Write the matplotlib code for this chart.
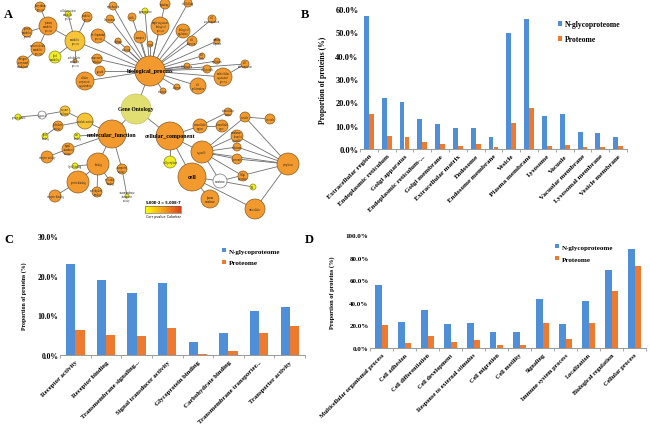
import numpy as np
import matplotlib
matplotlib.use('Agg')
import matplotlib.pyplot as plt
from matplotlib.patches import Circle
from matplotlib.colors import LinearSegmentedColormap

plt.rcParams['font.family'] = ['Liberation Serif', 'DejaVu Serif']
plt.rcParams['font.weight'] = 'bold'

BLUE = '#4f8fd8'
ORANGE = '#ee7a30'

# ---- panel B: cellular component
cc_terms = ['Extracellular region', 'Endoplasmic reticulum', 'Golgi apparatus',
            'Endoplasmic reticulum-...', 'Golgi membrane', 'Extracellular matrix',
            'Endosome', 'Endosome membrane', 'Vesicle', 'Plasma membrane',
            'Lysosome', 'Vacuole', 'Vacuolar membrane', 'Lysosomal membrane',
            'Vesicle membrane']
cc_glyco = [57.0, 21.8, 20.1, 13.0, 10.8, 9.0, 9.1, 5.3, 49.6, 55.8, 14.3, 15.1, 7.5, 7.0, 5.0]
cc_prot = [15.2, 5.4, 5.0, 3.0, 2.0, 1.5, 2.3, 1.0, 11.1, 17.6, 1.5, 1.8, 1.0, 0.8, 1.3]

# ---- panel C: molecular function
mf_terms = ['Receptor activity', 'Receptor binding', 'Transmembrane signaling...',
            'Signal transducer activity', 'Glycoprotein binding', 'Carbohydrate binding',
            'Transmembrane transporter...', 'Transporter activity']
mf_glyco = [22.9, 18.9, 15.6, 18.1, 3.4, 5.5, 11.0, 12.2]
mf_prot = [6.3, 5.1, 4.9, 6.7, 0.3, 1.0, 5.6, 7.3]

# ---- panel D: biological process
bp_terms = ['Multicellular organismal process', 'Cell adhesion', 'Cell differentiation',
            'Cell development', 'Response to external stimulus', 'Cell migration',
            'Cell motility', 'Signaling', 'Immune system process', 'Localization',
            'Biological regulation', 'Cellular process']
bp_glyco = [55.5, 22.8, 33.8, 21.5, 22.5, 14.0, 14.3, 43.2, 21.0, 41.2, 69.0, 87.2]
bp_prot = [20.5, 4.3, 10.5, 5.3, 6.7, 2.5, 3.0, 21.8, 7.8, 22.5, 50.5, 72.3]

# ---- panel A: GO network (node x, y, radius, colour kind, label)
node_x = [136, 150, 112, 170,
          75, 48, 40, 68, 87, 27, 38, 55, 75, 23, 97, 98, 100, 85,
          113, 110, 132, 145, 165, 188, 160, 183, 140, 118, 127, 150, 192,
          212, 217, 202, 217, 245, 207, 223, 198, 177, 163, 187,
          85, 42, 18, 65, 58, 45, 77, 68, 47, 98, 75, 78, 55, 97, 110, 122, 127,
          200, 222, 228, 245, 270, 202, 237, 237, 237, 243, 253, 220, 288, 170,
          192, 210, 255]
node_y = [110, 72, 135, 137,
          42, 27, 8, 15, 18, 33, 50, 58, 62, 63, 60, 37, 72, 82,
          7, 20, 18, 12, 5, 4, 27, 32, 38, 42, 50, 45, 42,
          20, 42, 57, 62, 65, 70, 78, 87, 88, 92, 67,
          122, 116, 118, 112, 127, 137, 137, 150, 158, 165, 167, 183, 197, 193, 182, 170, 197,
          127, 127, 113, 118, 120, 153, 137, 148, 160, 177, 188, 182, 165, 163,
          178, 200, 210]
node_r = [15, 15, 14, 14,
          10, 9, 5, 3, 5, 5, 7, 6, 2, 6, 5, 7, 5, 9,
          4, 4, 4, 3, 5, 4, 9, 7, 6, 3, 3, 3, 5,
          4, 3, 3, 3, 4, 4, 9, 8, 3, 3, 3,
          8, 4, 3, 5, 5, 3, 3, 6, 6, 11, 3, 11, 6, 5, 4, 5, 2,
          7, 6, 4, 5, 5, 11, 6, 4, 5, 5, 3, 7, 11, 6,
          14, 9, 10]
node_kind = ['go', 'o', 'o', 'o',
             'yo', 'o', 'o', 'y', 'o', 'o', 'o', 'y', 'o', 'o', 'o', 'o', 'o', 'o',
             'o', 'o', 'o', 'y', 'o', 'o', 'o', 'o', 'o', 'o', 'o', 'o', 'o',
             'o', 'o', 'o', 'o', 'o', 'o', 'o', 'o', 'o', 'o', 'o',
             'yo', 'w', 'y', 'yo', 'o', 'y', 'y', 'o', 'o', 'o', 'y', 'o', 'o', 'o', 'o', 'o', 'y',
             'o', 'o', 'o', 'o', 'o', 'o', 'o', 'o', 'o', 'o', 'y', 'w', 'o', 'y',
             'o', 'o', 'o']
node_label = ['Gene Ontology', 'biological_process', 'molecular_function', 'cellular_component',
              'metabolic\nprocess', 'primary\nmetabolic\nprocess', 'biosynthetic\nprocess',
              'cellular protein\nmetabolic\nprocess', 'catabolic\nprocess', 'protein\nmetabolic\nprocess',
              'macromolecule\nmetabolic\nprocess', 'lipid\nmetabolic', 'carbohydrate\nmetabolic\nprocess',
              'nitrogen\ncompound\nmetabolism', 'response to\nstimulus', 'developmental\nprocess',
              'growth', 'cellular\ncomponent\norganization',
              'reproduction', 'locomotion', 'death', 'pigmentation', 'signaling', 'cell killing',
              'single-organism\nbiological\nprocess', 'biological\nregulation', 'transport',
              'rhythmic', 'adhesion', 'viral', 'cell\nadhesion',
              'cell\ncommunication', 'immune\nresponse', 'cell\ndeath', 'regulation', 'cell\ndifferentiation',
              'cell growth', 'multicellular\norganismal\nprocess', 'cell\nproliferation', 'behavior',
              'secretion', 'localization',
              'catalytic activity', 'ligase ac', 'protein kinase', 'enzyme\nregulator', 'hydrolase\nactivity',
              'lipid\nbinding', 'ion\nbinding', 'signal\ntransducer\nactivity', 'receptor activity',
              'binding', 'lipid binding', 'protein binding', 'receptor binding', 'carbohydrate\nbinding',
              'nucleotide\nbinding', 'transporter\nactivity', 'transmembrane\ntransporter\nactivity',
              'extracellular\nregion', 'extracellular\nspace', 'extracellular\nmatrix', 'vesicle', 'vacuole',
              'organelle', 'membrane-\nbounded\norganelle', 'endosome', 'lysosome', 'Golgi\napparatus',
              'ER', 'membrane', 'cytoplasm', 'cell periphery', 'cell', 'plasma\nmembrane', 'intracellular']

edge_a = [0, 0, 0, 1, 1, 1, 1, 1, 1, 1, 1, 1, 1, 1, 1, 1, 1, 1, 1, 1, 1, 1, 1, 1, 1, 1, 1, 1, 1, 1, 1, 1,
          4, 4, 4, 4, 4, 5, 5, 5, 10, 37,
          2, 2, 2, 2, 2, 42, 42, 44, 43, 46, 49, 51, 51, 51, 51, 53, 57,
          3, 3, 3, 3, 59, 59, 64, 64, 64, 64, 64, 64, 64, 62, 62, 65, 66, 67, 70, 73, 73, 73, 75, 70]
edge_b = [1, 2, 3, 4, 15, 14, 16, 17, 18, 19, 20, 21, 22, 23, 24, 25, 26, 27, 28, 29, 30, 31, 32, 33, 34,
          36, 37, 38, 39, 40, 41, 35,
          5, 7, 8, 11, 12, 6, 9, 10, 13, 35,
          42, 48, 49, 51, 57, 45, 46, 43, 45, 47, 50, 52, 53, 55, 56, 54, 58,
          59, 64, 73, 72, 61, 60, 62, 65, 66, 67, 68, 70, 71, 63, 71, 71, 71, 71, 71, 74, 70, 75, 71, 69]

kind_face = {'go': '#e2df72', 'o': '#f39a2e', 'y': '#f2ec24', 'yo': '#f7c437', 'w': '#ffffff'}
kind_edge = {'go': '#c8c460', 'o': '#8a5b22', 'y': '#8a8a20', 'yo': '#8a6a22', 'w': '#777777'}

fig = plt.figure(figsize=(6.5, 4.27), dpi=100)

# ---------------- panel A
axa = fig.add_axes([0, 1 - 225 / 427, 330 / 650, 225 / 427])
axa.set_xlim(0, 330)
axa.set_ylim(225, 0)
axa.set_aspect('equal')
axa.axis('off')
for a, b in zip(edge_a, edge_b):
    axa.plot([node_x[a], node_x[b]], [node_y[a], node_y[b]], color='#6e6e6e', lw=0.6, zorder=1)
for x, y, r, k, lab in zip(node_x, node_y, node_r, node_kind, node_label):
    axa.add_patch(Circle((x, y), r, facecolor=kind_face[k], edgecolor=kind_edge[k], lw=0.5, zorder=2))
    if k == 'go':
        axa.text(x, y, lab, ha='center', va='center', fontsize=4, fontweight='bold', zorder=3)
    elif r >= 14:
        axa.text(x, y, lab, ha='center', va='center', fontsize=4.3, fontweight='bold', zorder=3)
    else:
        axa.text(x, y, lab, ha='center', va='center', fontsize=1.8, fontweight='normal',
                 linespacing=0.9, color='#222222', zorder=3)

cmap = LinearSegmentedColormap.from_list('pv', ['#ffff00', '#f7a21c', '#e0401a'])
grad = np.linspace(0, 1, 100).reshape(1, -1)
axa.imshow(grad, cmap=cmap, extent=[145, 181, 214, 207], aspect='auto', zorder=2)
axa.add_patch(plt.Rectangle((145, 207), 36, 7, fill=False, edgecolor='#555555', lw=0.4, zorder=3))
axa.text(146, 205, '5.00E-2', fontsize=2.6, family='DejaVu Sans', va='bottom')
axa.text(181, 205, '< 5.00E-7', fontsize=2.6, family='DejaVu Sans', va='bottom', ha='right')
axa.text(163, 217, 'Corr pvalue Colorbar', fontsize=2.4, family='DejaVu Sans', fontweight='normal',
         ha='center', va='center')


def bar_panel(rect, terms, glyco, prot, ymax, ystep, width, tfs, xfs, lfs, legpos):
    ax = fig.add_axes(rect)
    x = np.arange(len(terms))
    ax.bar(x - width / 2, glyco, width, color=BLUE, label='N-glycoproteome', zorder=2)
    ax.bar(x + width / 2, prot, width, color=ORANGE, label='Proteome', zorder=2)
    ax.set_xlim(-0.5, len(terms) - 0.5)
    ax.set_ylim(0, ymax)
    ax.set_yticks(np.arange(0, ymax + 0.1, ystep))
    ax.set_yticklabels(['%.1f%%' % v for v in np.arange(0, ymax + 0.1, ystep)], fontsize=tfs)
    ax.set_xticks(x)
    ax.set_xticklabels(terms, rotation=45, ha='right', rotation_mode='anchor', fontsize=xfs)
    ax.set_xticks(np.arange(-0.5, len(terms)), minor=True)
    ax.tick_params(axis='x', which='major', length=0, pad=3)
    ax.tick_params(axis='x', which='minor', length=2.5, color='#999999', width=0.6)
    ax.tick_params(axis='y', length=0, pad=1)
    for s in ['top', 'right', 'left']:
        ax.spines[s].set_visible(False)
    ax.spines['bottom'].set_color('#999999')
    ax.spines['bottom'].set_linewidth(0.7)
    ax.legend(loc='upper left', bbox_to_anchor=legpos, frameon=False, fontsize=lfs,
              handlelength=0.6, handleheight=0.6, handletextpad=0.4, labelspacing=0.9,
              borderaxespad=0, borderpad=0)
    return ax


# ---------------- panel B
axb = bar_panel([360 / 650, 1 - 150 / 427, 267 / 650, 140 / 427], cc_terms, cc_glyco, cc_prot,
                60, 10, 0.28, 6, 5, 5.5, (0.74, 0.92))
axb.set_ylabel('Proportion of proteins (%)', fontsize=5.5, fontweight='bold', labelpad=6)

# ---------------- panel C
axc = bar_panel([60 / 650, 1 - 356 / 427, 245 / 650, 119 / 427], mf_terms, mf_glyco, mf_prot,
                30, 10, 0.3, 5.5, 4.8, 5, (0.66, 0.9))
axc.set_ylabel('Proportion of proteins (%)', fontsize=4.2, fontweight='bold', labelpad=8)

# ---------------- panel D
axd = bar_panel([370 / 650, 1 - 349 / 427, 276 / 650, 113 / 427], bp_terms, bp_glyco, bp_prot,
                100, 20, 0.3, 5, 4.5, 5, (0.67, 0.92))
axd.set_ylabel('Proportion of proteins (%)', fontsize=4.6, fontweight='bold', labelpad=8)

for lab, px, py in [('A', 4, 15), ('B', 301, 15), ('C', 4, 240), ('D', 305, 240)]:
    fig.text(px / 650, 1 - py / 427, lab, fontsize=9, fontweight='bold', va='center')

fig.savefig('out.png', dpi=100)
